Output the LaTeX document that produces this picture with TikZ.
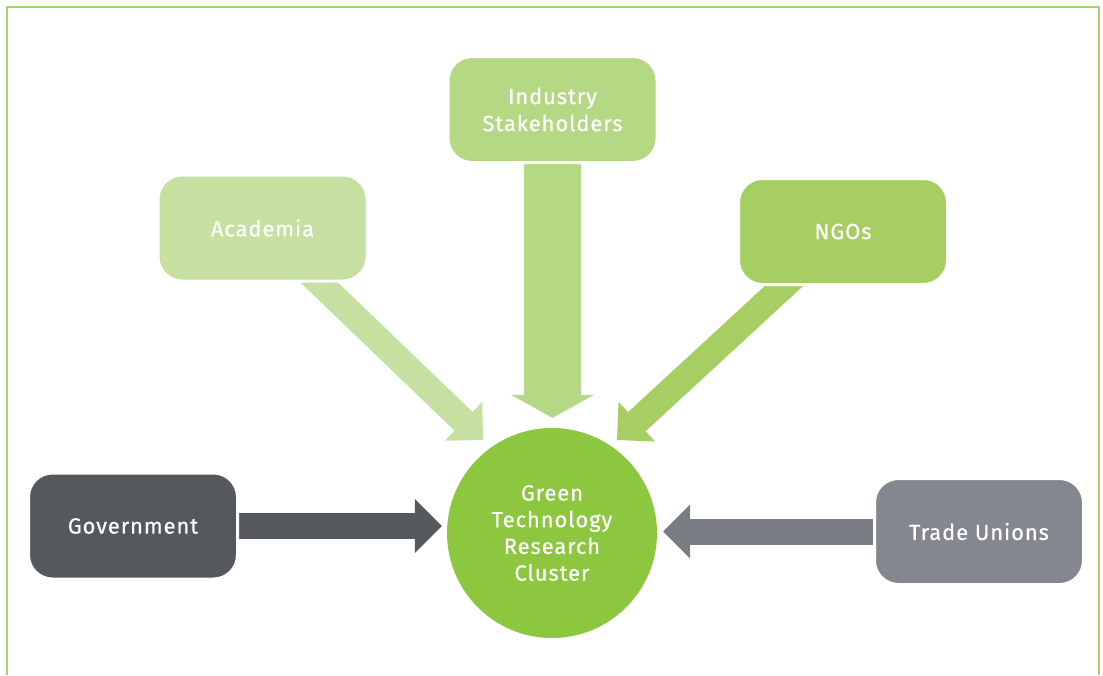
\documentclass[tikz,border=0pt]{standalone}
\usepackage{fontspec}
\setmainfont{Fira Sans}[LetterSpace=4, FakeBold=0.4]
\usetikzlibrary{arrows.meta,backgrounds}

\definecolor{framegreen}{HTML}{A6D46A}
\definecolor{hubgreen}{HTML}{8DC63F}
\definecolor{indgreen}{HTML}{B5D884}
\definecolor{acadgreen}{HTML}{C5E0A0}
\definecolor{ngogreen}{HTML}{A6CE62}
\definecolor{govgrey}{HTML}{55585C}
\definecolor{tradegrey}{HTML}{84878F}
\definecolor{tradearrow}{HTML}{797C83}

\begin{document}
\begin{tikzpicture}[x=1pt, y=-1pt,
                    groupnode/.style={rounded corners=24pt, draw=white, line width=3pt, minimum width=209pt, minimum height=106pt, text=white, align=center, font=\fontsize{22}{27}\selectfont},
                    hubnode/.style={circle, fill=hubgreen, minimum size=210pt, inner sep=0pt, text=white, align=center, font=\fontsize{22}{26.7}\selectfont},
                    fatarrow/.style={line width=26pt, -{Triangle[length=27pt, width=54pt, line width=0pt]}},
                    widearrow/.style={line width=57pt, -{Triangle[length=23pt, width=83pt, line width=0pt]}},
                ]
                    \useasboundingbox (0,0) rectangle (1103,675);
                    \draw[framegreen, line width=1.4pt] (7,675) -- (7,7) -- (1099,7) -- (1099,675);

                    %Nodes
                    \node[hubnode](hub) at (552,533) {Green\\Technology\\Research\\Cluster};
                    \node[groupnode, fill=indgreen](ind) at (552.5,109.5) {Industry\\Stakeholders};
                    \node[groupnode, fill=acadgreen](acad) at (262.5,228) {Academia};
                    \node[groupnode, fill=ngogreen](ngo) at (843,231.5) {NGOs};
                    \node[groupnode, fill=govgrey](gov) at (133,526) {Government};
                    \node[groupnode, fill=tradegrey](trade) at (979,531.5) {Trade Unions};
                    \coordinate (acadtip) at (483,440);
                    \coordinate (ngotip) at (617,440);

                    %Arrows
                    \begin{pgfonlayer}{background}
                    \draw[fatarrow, acadgreen](acad.center) -- (acadtip);
                    \draw[fatarrow, ngogreen](ngo.center) -- (ngotip);
                    \draw[widearrow, indgreen, shorten >=10pt](ind.center) -- (ind.center |- hub.north);
                    \draw[fatarrow, govgrey, shorten >=5pt](gov.center) -- (gov.center -| hub.west);
                    \draw[fatarrow, tradearrow, shorten >=6pt](trade.center) -- (trade.center -| hub.east);
                    \end{pgfonlayer}
                \end{tikzpicture}
\end{document}
